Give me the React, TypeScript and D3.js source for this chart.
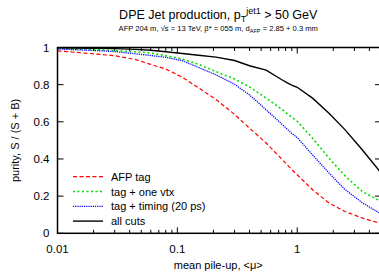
import { useEffect } from 'react';
import * as d3 from 'd3';

// mean pile-up grid and purity
const mu = [0.01, 0.02, 0.03, 0.045, 0.06, 0.08, 0.11, 0.15, 0.21, 0.3, 0.4, 0.55, 0.75, 0.85, 0.9, 1.0, 1.35, 1.85, 2.5, 3.5, 5];
const afpTag = [0.982, 0.966, 0.956, 0.935, 0.909, 0.884, 0.84, 0.783, 0.72, 0.64, 0.566, 0.486, 0.397, 0.36, 0.343, 0.315, 0.233, 0.162, 0.117, 0.082, 0.052];
const oneVtx = [0.995, 0.988, 0.983, 0.977, 0.97, 0.956, 0.938, 0.91, 0.87, 0.83, 0.788, 0.728, 0.666, 0.638, 0.624, 0.603, 0.51, 0.403, 0.31, 0.224, 0.172];
const timing = [0.992, 0.984, 0.978, 0.966, 0.957, 0.947, 0.929, 0.893, 0.853, 0.802, 0.745, 0.665, 0.585, 0.553, 0.538, 0.515, 0.42, 0.323, 0.236, 0.164, 0.104];
const allCuts = [0.998, 0.996, 0.994, 0.99, 0.985, 0.977, 0.968, 0.958, 0.948, 0.93, 0.902, 0.878, 0.825, 0.805, 0.797, 0.786, 0.726, 0.645, 0.558, 0.448, 0.325];

const seriesNames = ['AFP tag', 'tag + one vtx', 'tag + timing (20 ps)', 'all cuts'];
const xTickLabels = ['0.01', '0.1', '1'];
const yTicks = [0, 0.2, 0.4, 0.6, 0.8, 1];

const W = 379, H = 273;
const L = 57.5, R = 381, T = 47.5, B = 233.3;
const font = 'Liberation Sans, Arial, Helvetica, sans-serif';

export default function App() {
  useEffect(() => { document.body.style.margin = '0'; }, []);

  const x = d3.scaleLog().domain([0.01, 5]).range([L, R]);
  const y = d3.scaleLinear().domain([0, 1]).range([B, T]);

  const styles = [
    { color: '#ff0000', dash: '4,2.5', width: 1.2 },
    { color: '#00e000', dash: '2,2.5', width: 1.6 },
    { color: '#0000ff', dash: '1.2,1', width: 1.3 },
    { color: '#000000', dash: 'none', width: 1.4 },
  ];
  const data = [afpTag, oneVtx, timing, allCuts];

  const line = d3.line<number>().x((_, i) => x(mu[i])).y(d => y(d));

  const majors = [0.01, 0.1, 1];
  const minors: number[] = [];
  [0.01, 0.1, 1].forEach(d => {
    for (let k = 2; k <= 9; k++) if (d * k <= 5) minors.push(d * k);
  });

  return (
    <svg width={W} height={H} style={{ display: 'block' }} fontFamily={font}>
      <defs>
        <clipPath id="plot">
          <rect x={L} y={T - 2} width={R - L} height={B - T + 4} />
        </clipPath>
      </defs>
      <text x={(L + 379) / 2} y={19} textAnchor="middle" fontSize={12.5}>
        DPE Jet production, p<tspan fontSize={9} dy={3}>T</tspan>
        <tspan fontSize={9} dy={-8}>jet1</tspan>
        <tspan dy={5}> &gt; 50 GeV</tspan>
      </text>
      <text x={(L + 379) / 2} y={31} textAnchor="middle" fontSize={7.6}>
        AFP 204 m, √s = 13 TeV, β* = 055 m, d<tspan fontSize={5.5} dy={2}>AFP</tspan>
        <tspan dy={-2}> = 2.85 + 0.3 mm</tspan>
      </text>

      <g clipPath="url(#plot)">
        {data.map((d, i) => (
          <path key={i} d={line(d) ?? ''} fill="none" stroke={styles[i].color}
            strokeWidth={styles[i].width} strokeDasharray={styles[i].dash} />
        ))}
      </g>

      {/* ticks */}
      <g stroke="#000" strokeWidth={1}>
        {majors.map(d => (
          <g key={'M' + d}>
            <line x1={x(d)} x2={x(d)} y1={B} y2={B - 6} />
            <line x1={x(d)} x2={x(d)} y1={T} y2={T + 6} />
          </g>
        ))}
        {minors.map(d => (
          <g key={'m' + d}>
            <line x1={x(d)} x2={x(d)} y1={B} y2={B - 3.5} />
            <line x1={x(d)} x2={x(d)} y1={T} y2={T + 3.5} />
          </g>
        ))}
        {yTicks.map(d => (
          <g key={'y' + d}>
            <line x1={L} x2={L + 6} y1={y(d)} y2={y(d)} />
            <line x1={R} x2={R - 6} y1={y(d)} y2={y(d)} />
          </g>
        ))}
      </g>
      <rect x={L} y={T} width={R - L} height={B - T} fill="none" stroke="#000" strokeWidth={1.5} />

      {yTicks.map(d => (
        <text key={'yl' + d} x={L - 8} y={y(d) + 4} textAnchor="end" fontSize={11.5}>{d}</text>
      ))}
      {majors.map((d, i) => (
        <text key={'xl' + d} x={x(d)} y={253} textAnchor="middle" fontSize={11.5}>{xTickLabels[i]}</text>
      ))}
      <text x={(L + 379) / 2} y={269} textAnchor="middle" fontSize={11}>mean pile-up, &lt;μ&gt;</text>
      <text transform={`translate(19,${(T + B) / 2}) rotate(-90)`} textAnchor="middle" fontSize={11}>
        purity, S / (S + B)
      </text>

      {/* legend */}
      {seriesNames.map((n, i) => {
        const ly = 176.7 + i * 14.8;
        return (
          <g key={n}>
            <line x1={73} x2={103} y1={ly} y2={ly} stroke={styles[i].color}
              strokeWidth={styles[i].width} strokeDasharray={styles[i].dash} />
            <text x={111} y={ly + 4} fontSize={11}>{n}</text>
          </g>
        );
      })}
    </svg>
  );
}
